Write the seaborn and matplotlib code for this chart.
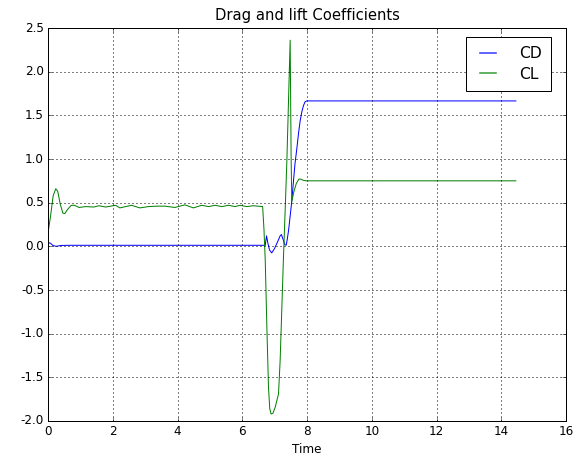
import matplotlib
matplotlib.use("Agg")
import matplotlib.pyplot as plt
from matplotlib.lines import Line2D
import pandas as pd
import seaborn as sns

# Drag coefficient history
cd_time = [0.0, 0.04, 0.08, 0.15, 0.25, 0.4, 0.7, 1.5, 3.0, 4.5, 6.0, 6.71,
           6.75, 6.79, 6.84, 6.91, 6.99, 7.09, 7.17, 7.21, 7.26, 7.32, 7.36,
           7.39, 7.43, 7.49, 7.53, 7.59, 7.63, 7.68, 7.74, 7.79, 7.84, 7.89,
           7.94, 7.99, 10.0, 12.0, 14.45]
cd_value = [0.02, 0.04, 0.035, 0.01, 0.0, 0.01, 0.012, 0.012, 0.012, 0.012,
            0.012, 0.012, 0.12, 0.04, -0.04, -0.075, -0.03, 0.05, 0.12, 0.135,
            0.08, 0.015, 0.015, 0.08, 0.18, 0.38, 0.52, 0.78, 0.95, 1.10, 1.30,
            1.44, 1.54, 1.61, 1.655, 1.665, 1.665, 1.665, 1.665]

# Lift coefficient history
cl_time = [0.0, 0.08, 0.16, 0.24, 0.30, 0.38, 0.46, 0.52, 0.60, 0.72, 0.82,
           0.96, 1.16, 1.42, 1.57, 1.78, 2.09, 2.22, 2.58, 2.84, 3.10, 3.35,
           3.61, 3.92, 4.23, 4.49, 4.75, 4.96, 5.16, 5.37, 5.57, 5.78, 5.93,
           6.14, 6.34, 6.63, 6.67, 6.71, 6.76, 6.81, 6.85, 6.89, 6.95, 7.02,
           7.12, 7.17, 7.22, 7.27, 7.33, 7.38, 7.48, 7.51, 7.53, 7.59, 7.67,
           7.75, 7.81, 7.89, 7.99, 10.0, 12.0, 14.45]
cl_value = [0.15, 0.35, 0.58, 0.66, 0.63, 0.48, 0.38, 0.375, 0.42, 0.47, 0.47,
            0.445, 0.455, 0.45, 0.465, 0.45, 0.47, 0.44, 0.47, 0.44, 0.455,
            0.46, 0.46, 0.445, 0.475, 0.44, 0.47, 0.455, 0.47, 0.455, 0.47,
            0.455, 0.47, 0.455, 0.465, 0.455, 0.2, -0.16, -0.92, -1.61, -1.86,
            -1.92, -1.91, -1.84, -1.69, -1.31, -0.74, -0.16, 0.46, 1.0, 2.36,
            1.0, 0.51, 0.62, 0.72, 0.77, 0.77, 0.755, 0.75, 0.75, 0.75, 0.75]

series_names = ["CD", "CL"]
series_colors = {"CD": "#0000ff", "CL": "#008000"}

df = pd.concat([
    pd.DataFrame({"Time": cd_time, "value": cd_value, "series": series_names[0]}),
    pd.DataFrame({"Time": cl_time, "value": cl_value, "series": series_names[1]}),
], ignore_index=True)

plt.style.use("classic")
fig = plt.figure(figsize=(579 / 72, 460 / 72), dpi=72, facecolor="white")
ax = fig.add_axes([48 / 579, 1 - 421 / 460, (566 - 48) / 579, (421 - 28) / 460])

sns.lineplot(data=df, x="Time", y="value", hue="series", hue_order=series_names,
             palette=series_colors, estimator=None, sort=False,
             linewidth=1.0, ax=ax, legend=False)

ax.set_xlim(0, 16)
ax.set_ylim(-2.0, 2.5)
ax.set_xticks(range(0, 17, 2))
ax.set_yticks([-2.0, -1.5, -1.0, -0.5, 0.0, 0.5, 1.0, 1.5, 2.0, 2.5])
ax.yaxis.set_major_formatter(matplotlib.ticker.FormatStrFormatter("%.1f"))
ax.grid(True, linestyle=":", color="black", linewidth=1.0)
ax.set_xlabel("Time")
ax.set_ylabel("")
ax.set_title("Drag and lift Coefficients", fontsize=14.8, pad=8)

# Legend entries in the series colours
legend_handles = [Line2D([0, 1], [0, 0], color=series_colors[n], linewidth=1.6,
                         alpha=0.75, linestyle="-", marker="None")
                  for n in series_names]
ax.legend(legend_handles, series_names, loc="upper right",
          bbox_to_anchor=((551 - 48) / 518, (421 - 37) / 393),
          borderaxespad=0.0, fontsize=15.5, borderpad=0.6,
          handlelength=1.6, handletextpad=1.2, labelspacing=0.35)

fig.savefig("out.png", dpi=72, facecolor="white")
